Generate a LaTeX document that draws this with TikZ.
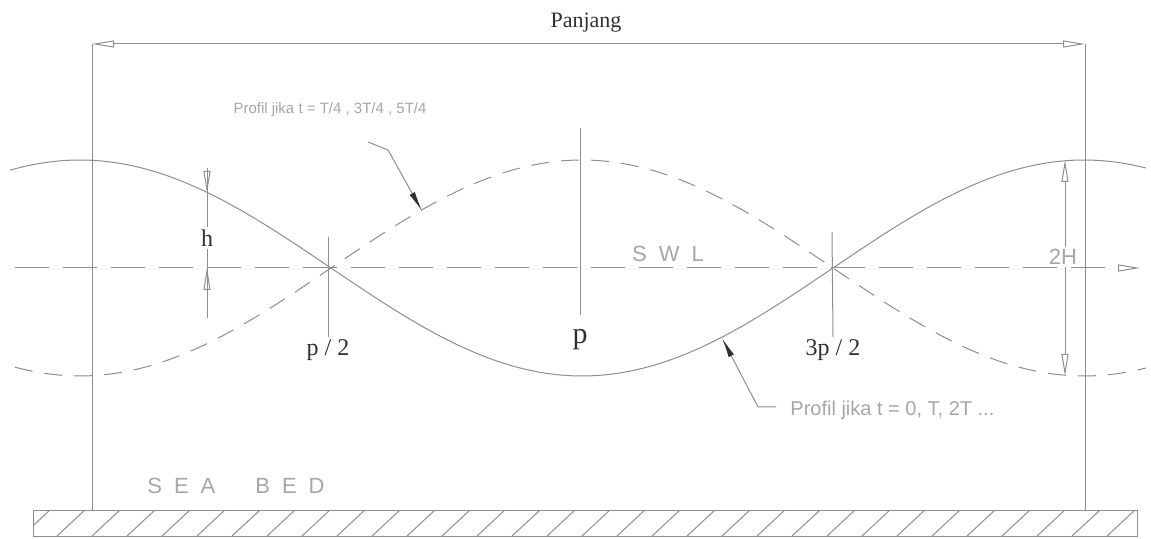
\documentclass[tikz,border=0pt]{standalone}
\usepackage{fontspec}
\setmainfont{Liberation Serif}
\setsansfont{Liberation Sans}
\usetikzlibrary{arrows.meta,positioning}
\definecolor{lineGray}{HTML}{8E8E8E}
\definecolor{cadGray}{HTML}{A6A6A6}
\definecolor{inkGray}{HTML}{303030}

\begin{document}
\begin{tikzpicture}[
  x=0.5pt, y=-0.5pt,
  >={Triangle[open,length=11pt,width=3.5pt]},
  every node/.style={inner sep=1pt},
  thinLine/.style={draw=lineGray, line width=0.5pt},
  waveSolid/.style={thinLine},
  waveDashed/.style={thinLine, dash pattern=on 9pt off 6pt},
  swlLine/.style={thinLine, dash pattern=on 17pt off 7pt},
  dimLine/.style={thinLine, <->},
  leader/.style={thinLine, -{Latex[length=10pt,width=3pt,color=inkGray]}},
  serifLabel/.style={text=inkGray, font=\fontsize{12}{14}\selectfont},
  cadText/.style={text=cadGray, font=\sffamily\fontsize{10}{12}\selectfont}
]
\useasboundingbox (0,0) rectangle (1151,539);

% sea bed
\begin{scope}
  \clip (33,510) rectangle (1137,536);
  \foreach \x in {22,57,...,1150} \draw[thinLine] (\x,536) -- ++(28,-26);
\end{scope}
\draw[thinLine] (33,510) rectangle (1137,536);
\node[cadText, font=\sffamily\fontsize{11}{13}\selectfont] (seaBed) at (236,486)
  {S\hspace{6pt}E\hspace{6pt}A\hspace{20pt}B\hspace{6pt}E\hspace{6pt}D};

% panjang
\coordinate (lenL) at (92,44);
\coordinate (lenR) at (1085,44);
\coordinate (bedL) at (92,510);
\coordinate (bedR) at (1085,510);
\draw[thinLine] (bedL) -- (lenL);
\draw[thinLine] (bedR) -- (lenR);
\draw[dimLine] (lenL) -- (lenR);
\node[serifLabel, font=\fontsize{11}{13}\selectfont] (panjang) at (586,23) {Panjang};

% still water level
\coordinate (swlStart) at (15,268);
\coordinate (swlEnd) at (1140,268);
\draw[swlLine, ->] (swlStart) -- (swlEnd);
\node[cadText, font=\sffamily\fontsize{11}{13}\selectfont] (swl) at (668,254)
  {S\hspace{6pt}W\hspace{6pt}L};

% waves
\draw[waveSolid] plot[domain=10:1146, samples=160] (\x, {268-108*cos(0.35857*(\x-80))});
\draw[waveDashed] plot[domain=15:1146, samples=160] (\x, {268+108*cos(0.35857*(\x-80))});

% nodes of the wave
\node[serifLabel] (halfP) at (328,350) {p / 2};
\node[serifLabel, font=\fontsize{15}{17}\selectfont] (fullP) at (580,340) {p};
\node[serifLabel] (threeHalfP) at (833,350) {3p / 2};
\coordinate (halfTop) at (328,237);
\coordinate (fullTop) at (580,128);
\coordinate (fullBot) at (580,315);
\coordinate (threeTop) at (832,232);
\draw[thinLine] (halfTop) -- (halfP.north);
\draw[thinLine] (fullTop) -- (fullBot);
\draw[thinLine] (threeTop) -- (threeHalfP.north);

% h
\node[serifLabel] (hLabel) at (207,238) {h};
\coordinate (hTop) at (207,168);
\coordinate (hWave) at (207,193);
\coordinate (hBot) at (207,318);
\coordinate (hSwl) at (207,268);
\draw[thinLine] (hTop) -- (hLabel.north);
\draw[thinLine] (hLabel.south) -- (hBot);
\draw[thinLine, ->] (hTop) -- (hWave);
\draw[thinLine, ->] (hBot) -- (hSwl);

% 2H
\node[cadText, font=\sffamily\fontsize{11}{13}\selectfont] (twoH) at (1063,257) {2H};
\coordinate (crestTop) at (1065,160);
\coordinate (troughBot) at (1065,376);
\draw[thinLine, ->] (twoH.north -| crestTop) -- (crestTop);
\draw[thinLine, ->] (twoH.south -| troughBot) -- (troughBot);

% profiles
\node[cadText, font=\sffamily\fontsize{7.5}{9}\selectfont] (profA) at (330,110)
  {Profil jika t = T/4 , 3T/4 , 5T/4};
\coordinate (startA) at (368,142);
\coordinate (kneeA) at (388,150);
\coordinate (tipA) at (422,211);
\draw[leader] (startA) -- (kneeA) -- (tipA);

\node[cadText, anchor=west] (profB) at (788,410) {Profil jika t = 0, T, 2T ...};
\coordinate (startB) at (776,407);
\coordinate (kneeB) at (758,407);
\coordinate (tipB) at (722,338);
\draw[leader] (startB) -- (kneeB) -- (tipB);
\end{tikzpicture}
\end{document}
